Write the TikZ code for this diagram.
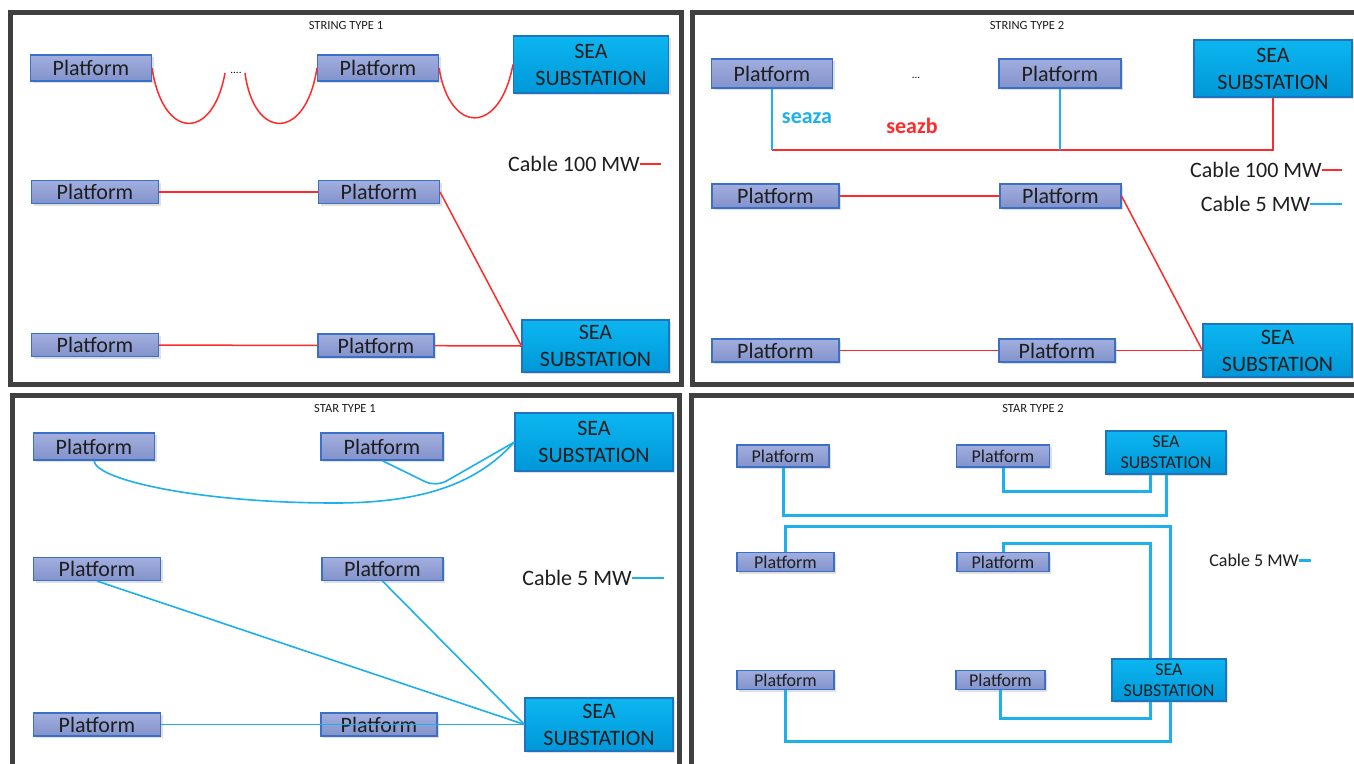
\documentclass[tikz,border=0pt]{standalone}
\usepackage{fontspec}
\setmainfont{Carlito}
\usetikzlibrary{shadows}
\pgfdeclarelayer{bg}
\pgfdeclarelayer{fg}
\pgfsetlayers{bg,main,fg}
\definecolor{framegray}{HTML}{404040}
\definecolor{plattop}{HTML}{A2AEDE}
\definecolor{platbot}{HTML}{8292CB}
\definecolor{platline}{HTML}{3A70C6}
\definecolor{seatop}{HTML}{0CB6F0}
\definecolor{seabot}{HTML}{0097D8}
\definecolor{sealine}{HTML}{1E74BE}
\definecolor{cabred}{HTML}{FF2B2B}
\definecolor{cabcyan}{HTML}{1EB0EA}
\definecolor{inkgray}{HTML}{1E1E1E}

\begin{document}
\begin{tikzpicture}[x=1pt, y=-1pt,
                frame/.style={draw=framegray, line width=5pt},
                title/.style={font=\fontsize{12.5}{14}\selectfont, text=inkgray, inner sep=0pt},
                plat/.style={draw=platline, line width=1.1pt, top color=plattop, bottom color=platbot, minimum width=121pt, minimum height=23pt, inner sep=0pt, text=inkgray, font=\fontsize{22}{26}\selectfont, drop shadow={shadow xshift=2pt, shadow yshift=-2pt, opacity=0.25}},
                subst/.style={draw=sealine, line width=1.1pt, top color=seatop, bottom color=seabot, minimum width=155pt, minimum height=57pt, inner sep=0pt, align=center, text=inkgray, font=\fontsize{22}{27}\selectfont, drop shadow={shadow xshift=2pt, shadow yshift=-2pt, opacity=0.25}},
                small/.style={font=\fontsize{18}{21}\selectfont},
                legend/.style={inner sep=0pt, text=inkgray, font=\fontsize{22}{26}\selectfont},
                dots/.style={inner sep=0pt, font=\fontsize{11}{12}\selectfont},
                c100/.style={draw=cabred, line width=1.5pt},
                c5/.style={draw=cabcyan, line width=1.6pt},
                c5thick/.style={draw=cabcyan, line width=3pt}]
                \useasboundingbox (0,0) rectangle (1354,763);
                \begin{pgfonlayer}{bg}
                    \fill[white] (0,0) rectangle (1354,763);
                    \draw[frame] (10,12.5) rectangle (681,384.5);
                    \draw[frame] (692.5,12.5) rectangle (1366,384.5);
                    \draw[frame] (12,395) rectangle (679,775);
                    \draw[frame] (691.5,395) rectangle (1366,775);
                \end{pgfonlayer}

                \node[title] (t1) at (346,25) {STRING TYPE 1};
                \node[plat, minimum height=26pt] (A1) at (91,68) {Platform};
                \node[plat, minimum height=26pt] (B1) at (378,68) {Platform};
                \node[subst] (S1) at (591,64.5) {SEA\\SUBSTATION};
                \node[dots] (g1) at (236,73) {....};
                \node[plat, minimum width=127pt] (C1) at (95,192) {Platform};
                \node[plat] (D1) at (379,192) {Platform};
                \node[plat, minimum width=127pt] (E1) at (95,345) {Platform};
                \node[plat, minimum width=116pt] (F1) at (376,345.5) {Platform};
                \node[subst, minimum width=147pt, minimum height=52pt] (T1) at (595.5,346) {SEA\\SUBSTATION};
                \node[legend] (L1) at (574,164) {Cable 100 MW};
                \coordinate (L1e) at (661,164);
                \coordinate (dA) at (225,73);
                \coordinate (dB) at (245,73);

                \node[title] (t2) at (1027,25) {STRING TYPE 2};
                \node[plat, minimum height=29pt] (A2) at (772,73.5) {Platform};
                \node[plat, minimum width=122pt, minimum height=29pt] (B2) at (1060,73.5) {Platform};
                \node[subst, minimum width=158pt] (S2) at (1273,68.5) {SEA\\SUBSTATION};
                \node[dots] (g2) at (916,78) {...};
                \node[inner sep=0pt, text=cabcyan, font=\fontsize{22}{26}\selectfont\bfseries] (za) at (807,118) {seaza};
                \node[inner sep=0pt, text=cabred, font=\fontsize{22}{26}\selectfont\bfseries] (zb) at (912,126) {seazb};
                \coordinate (bus) at (0,150);
                \node[plat, minimum width=127pt, minimum height=24pt] (C2) at (775.5,196) {Platform};
                \node[plat, minimum height=24pt] (D2) at (1060.5,196) {Platform};
                \node[plat, minimum width=127pt] (E2) at (775.5,350.5) {Platform};
                \node[plat, minimum width=116pt] (F2) at (1057,350.5) {Platform};
                \node[subst, minimum width=149pt, minimum height=53pt] (T2) at (1277.5,350.5) {SEA\\SUBSTATION};
                \node[legend] (L2) at (1256,170) {Cable 100 MW};
                \coordinate (L2e) at (1342,170);
                \node[legend] (L3) at (1255.5,204) {Cable 5 MW};
                \coordinate (L3e) at (1342,204);

                \node[title] (t3) at (345,408) {STAR TYPE 1};
                \node[plat, minimum height=27pt] (A3) at (94,446.5) {Platform};
                \node[plat, minimum width=122pt, minimum height=27pt] (B3) at (382,446.5) {Platform};
                \node[subst, minimum width=158pt, minimum height=58pt] (S3) at (594,442) {SEA\\SUBSTATION};
                \node[plat, minimum width=127pt] (C3) at (97,569) {Platform};
                \node[plat] (D3) at (382.5,569) {Platform};
                \node[legend] (L4) at (577,578) {Cable 5 MW};
                \coordinate (L4e) at (664,578);
                \node[plat, minimum width=127pt] (E3) at (97,724.5) {Platform};
                \node[plat, minimum width=116pt] (F3) at (379,724.5) {Platform};
                \node[subst, minimum width=148pt, minimum height=53pt] (T3) at (599,724.5) {SEA\\SUBSTATION};

                \node[title] (t4) at (1033,408) {STAR TYPE 2};
                \node[plat, small, minimum width=92pt, minimum height=22pt] (A4) at (783,456) {Platform};
                \node[plat, small, minimum width=93pt, minimum height=22pt] (B4) at (1003,456) {Platform};
                \node[subst, small, minimum width=120pt, minimum height=43pt] (S4) at (1166,452.5) {SEA\\SUBSTATION};
                \node[plat, small, minimum width=97pt, minimum height=19pt] (C4) at (785.5,562) {Platform};
                \node[plat, small, minimum width=92pt, minimum height=19pt] (D4) at (1003,562) {Platform};
                \node[legend, small] (L5) at (1254,560) {Cable 5 MW};
                \coordinate (L5e) at (1311,560);
                \node[plat, small, minimum width=97pt, minimum height=19pt] (E4) at (785.5,680) {Platform};
                \node[plat, small, minimum width=89pt, minimum height=19pt] (F4) at (1000.5,680) {Platform};
                \node[subst, small, minimum width=114pt, minimum height=42pt] (T4) at (1169,680) {SEA\\SUBSTATION};

                \begin{pgfonlayer}{fg}
                    \draw[c100] (A1.east) .. controls (163,141) and (213,141) .. (dA);
                    \draw[c100] (dB) .. controls (254,141) and (306,141) .. (B1.west);
                    \draw[c100] (B1.east) .. controls (450,135) and (500,135) .. (S1.west);
                    \draw[c100] (C1) -- (D1);
                    \draw[c100] (D1.east) -- (T1.west);
                    \draw[c100] (E1) -- (F1);
                    \draw[c100] (F1) -- (T1.west);
                    \draw[c100] (L1.east) -- (L1e);

                    \draw[c100, line width=1.4pt] (A2.south |- bus) -| (S2.south);
                    \draw[c5, line width=1.2pt] (A2.south) -- (A2.south |- bus);
                    \draw[c5, line width=1.2pt] (B2.south) -- (B2.south |- bus);
                    \draw[c100] (C2) -- (D2);
                    \draw[c100] (D2.east) -- (T2.west);
                    \draw[c100] (E2) -- (F2);
                    \draw[c100] (F2) -- (T2.west);
                    \draw[c100] (L2.east) -- (L2e);
                    \draw[c5] (L3.east) -- (L3e);

                    \draw[c5] (A3.south) .. controls (95,480) and (200,503) .. (335,503) .. controls (430,503) and (480,480) .. (S3.west);
                    \draw[c5, rounded corners=12pt] (B3.south) -- (436,487) -- (S3.west);
                    \draw[c5] (C3.south) -- (T3.west);
                    \draw[c5] (D3.south) -- (T3.west);
                    \draw[c5] (E3.east) -- (T3.west);
                    \draw[c5] (L4.east) -- (L4e);

                    \draw[c5thick] (A4.south) -- ++(0,48) -| (S4.south);
                    \draw[c5thick] (B4.south) -- ++(0,24) -| ([xshift=-16pt]S4.south);
                    \draw[c5thick] (C4.north) -- ++(0,-25) -| ([xshift=1pt]T4.north);
                    \draw[c5thick] (D4.north) -- ++(0,-8) -| ([xshift=-19pt]T4.north);
                    \draw[c5thick] (E4.south) -- ++(0,51) -| ([xshift=1pt]T4.south);
                    \draw[c5thick] (F4.south) -- ++(0,28) -| ([xshift=-19pt]T4.south);
                    \draw[c5thick] (L5.east) -- (L5e);
                \end{pgfonlayer}
            \end{tikzpicture}
\end{document}
